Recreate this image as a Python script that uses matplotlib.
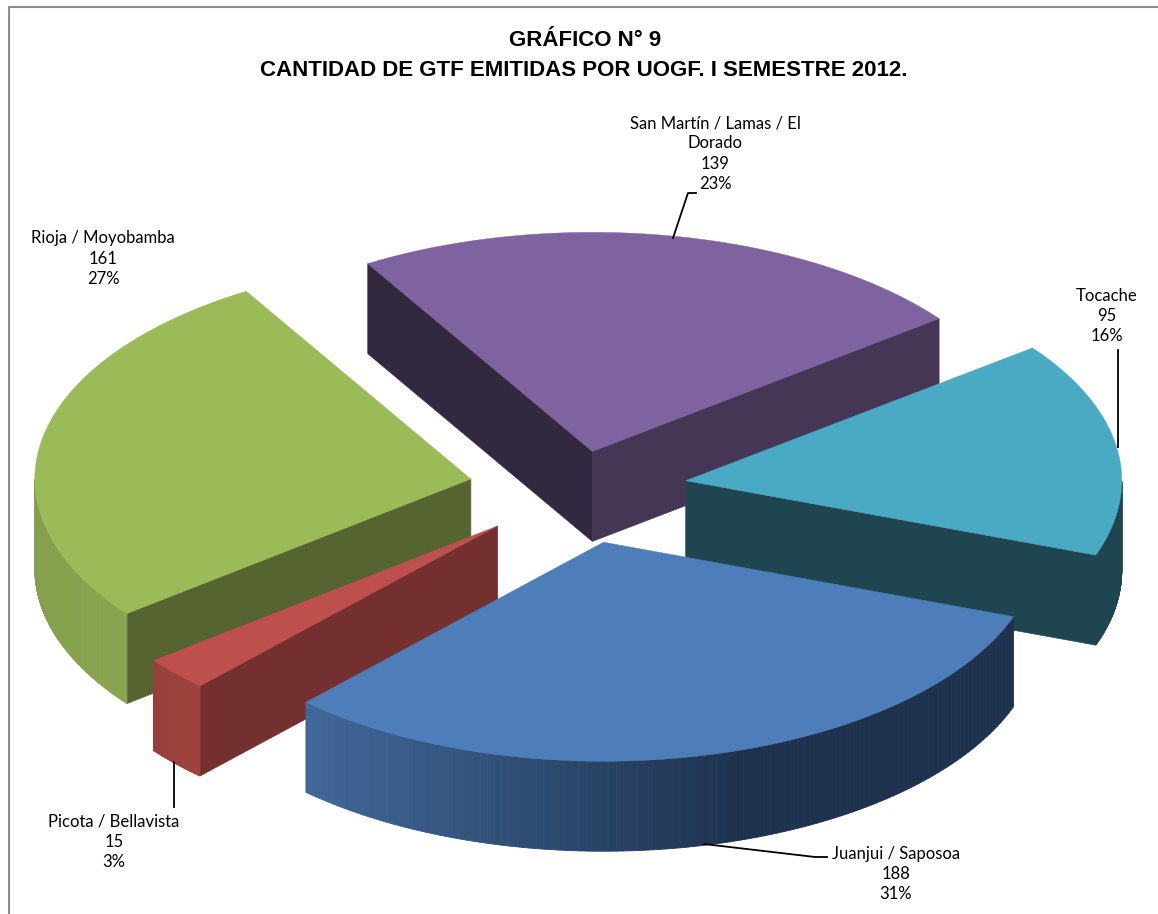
import numpy as np
import matplotlib
matplotlib.use("Agg")
import matplotlib.pyplot as plt
from matplotlib.collections import PolyCollection
from matplotlib.colors import to_rgb

names = ["San Martín / Lamas / El\nDorado", "Tocache", "Juanjui / Saposoa", "Picota / Bellavista", "Rioja / Moyobamba"]
values = [139, 95, 188, 15, 161]
explode = [0.175, 0.25, 0.25, 0.25, 0.25]

top_colors = ["#7f63a0", "#4aa9c3", "#4d7eb9", "#bd4f4c", "#9bbb59"]
start_face = ["#32283f", "#1f4650", "#1f324e", "#74302f", "#556430"]
end_face = ["#463656", "#1f4650", "#1f324e", "#74302f", "#556430"]
wall_left = ["#463656", "#1f4650", "#41689a", "#983f3c", "#85a04c"]
wall_right = ["#463656", "#1f4650", "#1e324e", "#a0433f", "#8aa54f"]
wall_stop = [1, 1, 0.62, 1, 1]

# painter order, back to front
draw_order = [0, 1, 4, 3, 2]

cx, cy = 578, 489
rx, ry = 436, 219
depth = 90
start_angle = 121

fig = plt.figure(figsize=(11.58, 9.14), dpi=100)
ax = fig.add_axes([0, 0, 1, 1])
ax.set_xlim(0, 1158)
ax.set_ylim(914, 0)
ax.axis("off")

total = sum(values)
spans = np.array(values) / total * 360
starts = start_angle - np.concatenate([[0], np.cumsum(spans)[:-1]])
ends = starts - spans


def ell(x0, y0, t):
    t = np.radians(t)
    return x0 + rx * np.cos(t), y0 - ry * np.sin(t)


for i in draw_order:
    mid = (starts[i] + ends[i]) / 2
    x0 = cx + explode[i] * rx * np.cos(np.radians(mid))
    y0 = cy - explode[i] * ry * np.sin(np.radians(mid))

    # cut faces that look at the viewer
    for ang, col, visible in [(starts[i], start_face[i], np.cos(np.radians(starts[i])) < 0),
                              (ends[i], end_face[i], np.cos(np.radians(ends[i])) > 0)]:
        if visible:
            ex, ey = ell(x0, y0, ang)
            ax.fill([x0, ex, ex, x0], [y0, ey, ey + depth, y0 + depth], color=col, lw=0.5, zorder=i * 3 + 1 if False else None)

    # outer wall, lower half of the ellipse only
    hi = min(starts[i], 0)
    lo = max(ends[i], -180)
    if hi > lo:
        ts = np.linspace(hi, lo, 120)
        xs, ys = ell(x0, y0, ts)
        quads = []
        cols = []
        c1, c2 = np.array(to_rgb(wall_left[i])), np.array(to_rgb(wall_right[i]))
        for k in range(len(ts) - 1):
            quads.append([(xs[k], ys[k]), (xs[k + 1], ys[k + 1]), (xs[k + 1], ys[k + 1] + depth), (xs[k], ys[k] + depth)])
            f = ((xs[k] - xs.min()) / (xs.max() - xs.min())) / wall_stop[i]
            cols.append(c1 + (c2 - c1) * min(f, 1))
        ax.add_collection(PolyCollection(quads, facecolors=cols, edgecolors=cols, linewidths=0.6))

    # top
    ts = np.linspace(starts[i], ends[i], 200)
    xs, ys = ell(x0, y0, ts)
    ax.fill(np.r_[x0, xs], np.r_[y0, ys], color=top_colors[i], lw=0.3)

# labels
label_x = [715, 1107, 896, 114, 103]
label_y = [153.5, 316, 874, 842, 258.5]
for i in range(len(names)):
    pct = round(values[i] / total * 100)
    ax.text(label_x[i], label_y[i], f"{names[i]}\n{values[i]}\n{pct}%", ha="center", va="center",
            family="Lato", fontsize=12, color="black", linespacing=1.32)

# leader lines
leader_x = [[673, 688, 696], [1118, 1118], [704, 815, 827], [174, 174]]
leader_y = [[238, 193, 193], [350, 447], [844, 857, 857], [762, 807]]
for lx, ly in zip(leader_x, leader_y):
    ax.plot(lx, ly, color="black", lw=1.3)

ax.text(585, 40.5, "GRÁFICO N° 9", ha="center", va="center", family="Liberation Sans",
        fontweight="bold", fontsize=16, color="black")
ax.text(584, 70, "CANTIDAD DE GTF EMITIDAS POR UOGF. I SEMESTRE 2012.", ha="center", va="center",
        family="Liberation Sans", fontweight="bold", fontsize=16, color="black")

# chart frame
ax.plot([8.5, 8.5, 1158], [914, 6.5, 6.5], color="#8c8c8c", lw=1.5)

fig.savefig("out.png", dpi=100)
